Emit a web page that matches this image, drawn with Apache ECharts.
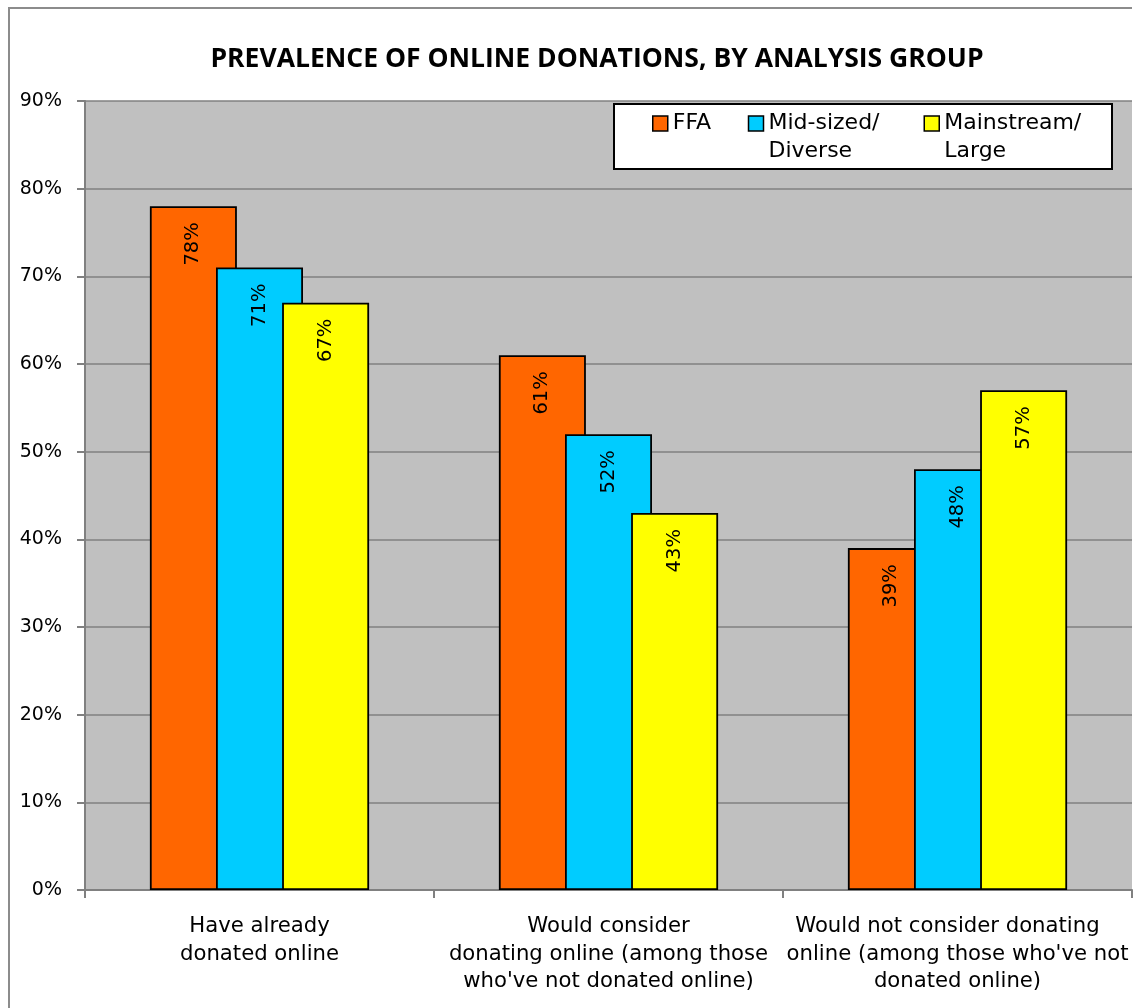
<!DOCTYPE html>
<html>
<head>
<meta charset="utf-8">
<script src="https://cdn.jsdelivr.net/npm/echarts@6/dist/echarts.min.js"></script>
<style>
  html, body { margin: 0; padding: 0; background: #fff; }
  #chart { width: 1140px; height: 1008px; }
</style>
</head>
<body>
<div id="chart"></div>
<script>
// Survey categories along the x axis
const categories = [
  'Have already\ndonated online',
  'Would consider\ndonating online (among those\nwho\'ve not donated online)',
  'Would not consider donating   \nonline (among those who\'ve not\ndonated online)'
];

// Share of respondents (%) per analysis group
const seriesNames = ['FFA', 'Mid-sized/\nDiverse', 'Mainstream/\nLarge'];
const ffaValues = [78, 61, 39];
const midSizedValues = [71, 52, 48];
const mainstreamValues = [67, 43, 57];

const seriesColors = ['#FF6600', '#00CCFF', '#FFFF00'];

// Value axis ticks
const yMin = 0;
const yMax = 90;
const yInterval = 10;

const FONT = 'DejaVu Sans';
const chart = echarts.init(document.getElementById('chart'));

const values = [ffaValues, midSizedValues, mainstreamValues];

const series = seriesNames.map((name, i) => ({
  name: name,
  type: 'bar',
  data: values[i],
  barWidth: 87,
  barGap: '-24%',
  itemStyle: { color: seriesColors[i], borderColor: '#000', borderWidth: 1.8 },
  label: {
    show: true,
    position: 'insideTop',
    distance: 16,
    rotate: 90,
    align: 'right',
    verticalAlign: 'middle',
    formatter: '{c}%',
    fontFamily: FONT,
    fontSize: 19.5,
    color: '#000'
  }
}));

// Legend rows: the swatch sits on the first text row
const legendLine = 28;

chart.setOption({
  animation: false,
  backgroundColor: '#fff',
  title: {
    text: 'PREVALENCE OF ONLINE DONATIONS, BY ANALYSIS GROUP',
    left: 592,
    textAlign: 'center',
    top: 41,
    textStyle: { fontFamily: 'Open Sans', fontWeight: 'bold', fontSize: 26.5, color: '#000' }
  },
  graphic: [
    {
      type: 'polyline',
      z: 100,
      shape: { points: [[9, 1010], [9, 8], [1132, 8]] },
      style: { stroke: '#8c8c8c', lineWidth: 2, fill: null }
    },
    {
      type: 'rect',
      z: 10,
      shape: { x: 614, y: 104, width: 498, height: 65 },
      style: { fill: '#fff', stroke: '#000', lineWidth: 2 }
    }
  ],
  legend: {
    z: 20,
    left: 652,
    top: 123.5 - 1.5 * legendLine,
    padding: 0,
    itemGap: 0,
    itemWidth: 15,
    itemHeight: 15,
    icon: 'rect',
    itemStyle: { borderColor: '#000', borderWidth: 1.5 },
    formatter: function (name) {
      return name.indexOf('\n') >= 0 ? ' \n' + name : name;
    },
    textStyle: { fontFamily: FONT, fontSize: 22, color: '#000', lineHeight: legendLine },
    data: [
      { name: seriesNames[0], textStyle: { width: 75 } },
      { name: seriesNames[1], textStyle: { width: 155 } },
      { name: seriesNames[2] }
    ]
  },
  grid: {
    left: 85,
    right: 8,
    top: 101,
    bottom: 118,
    show: true,
    backgroundColor: '#C0C0C0',
    borderWidth: 0
  },
  xAxis: {
    type: 'category',
    data: categories,
    axisLine: { lineStyle: { color: '#808080', width: 2 } },
    axisTick: { show: true, length: 8, interval: 0, lineStyle: { color: '#808080', width: 2 } },
    axisLabel: {
      interval: 0,
      margin: 23,
      fontFamily: FONT,
      fontSize: 21.2,
      lineHeight: 27.5,
      color: '#000',
      align: 'center'
    }
  },
  yAxis: {
    type: 'value',
    min: yMin,
    max: yMax,
    interval: yInterval,
    axisLine: { show: true, lineStyle: { color: '#808080', width: 2 } },
    axisTick: { show: true, length: 8, lineStyle: { color: '#808080', width: 2 } },
    axisLabel: {
      formatter: '{value}%',
      margin: 23,
      fontFamily: FONT,
      fontSize: 19,
      color: '#000'
    },
    splitLine: { show: true, lineStyle: { color: '#808080', width: 1.5 } }
  },
  series: series
});
</script>
</body>
</html>
